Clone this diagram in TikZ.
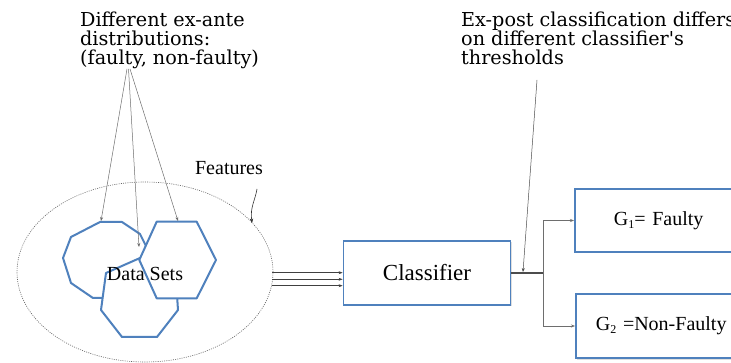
\documentclass[tikz,border=0pt]{standalone}
\usepackage{fontspec}
\setmainfont{Liberation Serif}
\newfontfamily\notefont{DejaVu Serif}
\usetikzlibrary{shapes.geometric,arrows.meta,shadows}
\definecolor{boxblue}{HTML}{4F81BD}
\definecolor{linegray}{HTML}{6E6E6E}
\tikzset{
  notetext/.style={inner sep=0pt, anchor=north west, align=left,
    font=\notefont\fontsize{19.2}{19}\selectfont},
  labeltext/.style={inner sep=0pt, font=\fontsize{20}{23}\selectfont},
  blueshape/.style={draw=boxblue, line width=2pt, fill=white, line join=round},
  bluebox/.style={draw=boxblue, line width=1.8pt, fill=white,
    drop shadow={opacity=0.25, shadow xshift=1pt, shadow yshift=-1.5pt}},
  pointer/.style={draw=linegray, line width=0.5pt, -{Stealth[length=4pt,width=3pt]}},
  feed/.style={draw=black!75, line width=0.6pt, -{Stealth[length=4pt,width=3pt]}},
}
\newcommand{\grp}[1]{G\raisebox{-0.3ex}{\fontsize{12}{12}\selectfont #1}}
\begin{document}
\begin{tikzpicture}[x=1pt,y=-1pt]
\clip (0,0) rectangle (731,363);
\fill[white] (0,0) rectangle (731,363);

% annotations
\node[notetext] (exante) at (80,12) {Different ex-ante\\distributions:\\(faulty, non-faulty)};
\node[notetext] (expost) at (461,12) {Ex-post classification differs\\on different classifier's\\thresholds};
\node[labeltext] (feat) at (229,168) {Features};

% feature space
\node[draw=black!60, dash pattern=on 1pt off 1.2pt, line width=0.6pt, ellipse,
      minimum width=256pt, minimum height=180pt] (space) at (145,272) {};

% data sets: three overlapping polygons
\draw[blueshape] (100,222) -- (122,222) -- (140,234) -- (147,248) -- (146,272)
  -- (122,298) -- (93,298) -- (71,283) -- (63,258) -- (71,237) -- cycle;
\draw[blueshape] (140,258) -- (176,280) -- (178,310) -- (157,337) -- (122,337)
  -- (101,310) -- (106,273) -- cycle;
\draw[blueshape] (156.7,221.7) -- (196.7,221.7) -- (216,260) -- (196.7,298.3)
  -- (156.7,298.3) -- (139.3,260) -- cycle;
\node[labeltext] (data) at (145,274) {Data Sets};

\coordinate (a1) at (101,221);
\coordinate (a2) at (139,247);
\coordinate (a3) at (178,221);
\coordinate (src1) at (127,69);
\coordinate (src2) at (128.5,69);
\coordinate (src3) at (130,69);
\draw[pointer] (src1) -- (a1);
\draw[pointer] (src2) -- (a2);
\draw[pointer] (src3) -- (a3);

\coordinate (ftail) at (257,189);
\coordinate (fhead) at (252,223);
\draw[draw=black!80, line width=0.6pt, -{Stealth[length=4.5pt,width=3.5pt]}]
  (ftail) .. controls (255,201) and (250,207) .. (fhead);

% classifier
\node[bluebox, minimum width=167pt, minimum height=64pt,
      font=\fontsize{23}{26}\selectfont] (clf) at (427,273) {Classifier};

\foreach \yy/\nm in {272.7/i1,279.3/i2,285.7/i3}{
  \coordinate (\nm) at (272,\yy);
  \draw[feed] (\nm) -- (\nm -| clf.west);
}

% outputs
\node[bluebox, minimum width=180pt, minimum height=63pt, anchor=west,
      font=\fontsize{20}{24}\selectfont, text width=160pt, align=left] (g1) at (574,220.5)
      {\hspace*{29pt}\grp{1}= Faulty};
\node[bluebox, minimum width=180pt, minimum height=64pt, anchor=west,
      font=\fontsize{20}{24}\selectfont, text width=160pt, align=left] (g2) at (575,326)
      {\hspace*{10pt}\grp{2} =Non-Faulty};

\coordinate (split) at (543,273);
\draw[draw=black!70, line width=1.3pt] (clf.east |- split) -- (split);
\draw[feed, draw=linegray] (split) |- (g1.west);
\draw[feed, draw=linegray] (split) |- (g2.west);

\coordinate (ptail) at (537,80);
\coordinate (phead) at (523,272);
\draw[pointer, draw=black!70] (ptail) -- (phead);
\end{tikzpicture}
\end{document}
